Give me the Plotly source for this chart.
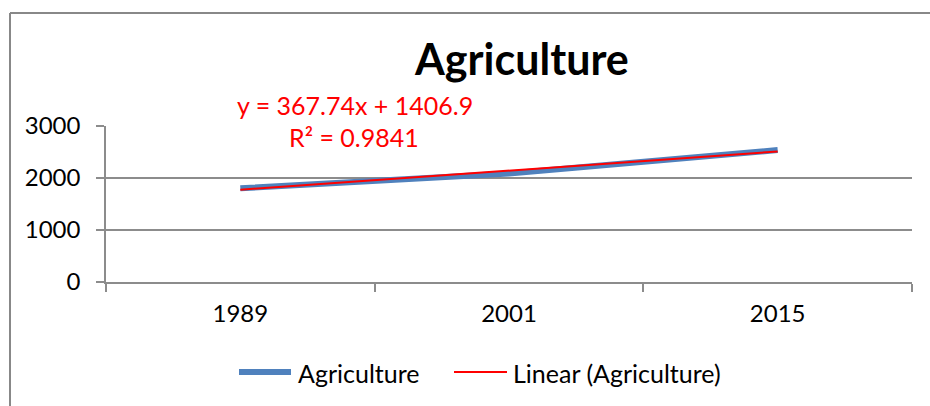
import plotly.graph_objects as go

# ---- data ----
categories = ["1989", "2001", "2015"]
agriculture = [1802, 2088, 2537]
trend_linear = [1774.6, 2142.4, 2510.1]   # Excel linear trendline y = 367.74x + 1406.9
equation_text = "y = 367.74x + 1406.9"
r2_text = "R² = 0.9841"
y_ticks = [0, 1000, 2000, 3000]
title_text = "Agriculture"
series_name = "Agriculture"
trend_name = "Linear (Agriculture)"

# ---- layout geometry (pixels) ----
W, H = 930, 406
PL, PR, PT, PB = 106, 912, 126, 282  # plot area edges


def px(x):
    return (x - PL) / (PR - PL)


def py(y):
    return (PB - y) / (PB - PT)


FONT = "Lato, 'Open Sans', sans-serif"
FS = 25
TFS = 24
GRID = "#8c8c8c"
BLUE = "#4F81BD"
RED = "#FF0000"

fig = go.Figure()
fig.add_trace(go.Scatter(x=categories, y=agriculture, mode="lines", name=series_name,
                         line=dict(color=BLUE, width=6), showlegend=False))
fig.add_trace(go.Scatter(x=categories, y=trend_linear, mode="lines", name=trend_name,
                         line=dict(color=RED, width=2), showlegend=False))

shapes = [
    # outer chart frame (left and top edges visible)
    dict(type="line", xref="paper", yref="paper", x0=px(10), x1=px(10), y0=py(13), y1=py(420),
         line=dict(color="#888888", width=2)),
    dict(type="line", xref="paper", yref="paper", x0=px(10), x1=px(940), y0=py(13), y1=py(13),
         line=dict(color="#888888", width=2)),
    # legend samples
    dict(type="line", xref="paper", yref="paper", x0=px(239), x1=px(291), y0=py(372), y1=py(372),
         line=dict(color=BLUE, width=6)),
    dict(type="line", xref="paper", yref="paper", x0=px(454), x1=px(507), y0=py(372), y1=py(372),
         line=dict(color=RED, width=2)),
]

annotations = [
    dict(text=f"<b>{title_text}</b>", xref="paper", yref="paper", x=px(521), y=py(58),
         xanchor="center", yanchor="middle", showarrow=False,
         font=dict(family=FONT, size=43, color="black")),
    dict(text=equation_text, xref="paper", yref="paper", x=px(355), y=py(105),
         xanchor="center", yanchor="middle", showarrow=False,
         font=dict(family=FONT, size=FS, color=RED)),
    dict(text=r2_text, xref="paper", yref="paper", x=px(354), y=py(137),
         xanchor="center", yanchor="middle", showarrow=False,
         font=dict(family=FONT, size=FS, color=RED)),
    dict(text=series_name, xref="paper", yref="paper", x=px(296), y=py(373),
         xanchor="left", yanchor="middle", showarrow=False,
         font=dict(family=FONT, size=FS, color="black")),
    dict(text=trend_name, xref="paper", yref="paper", x=px(511), y=py(373),
         xanchor="left", yanchor="middle", showarrow=False,
         font=dict(family=FONT, size=FS, color="black")),
]

fig.update_layout(
    width=W, height=H,
    margin=dict(l=PL, r=W - PR, t=PT, b=H - PB, pad=0),
    paper_bgcolor="white", plot_bgcolor="white",
    showlegend=False,
    font=dict(family=FONT, size=FS, color="black"),
    shapes=shapes,
    annotations=annotations,
    xaxis=dict(type="category", range=[-0.5, 2.5], tickson="boundaries",
               ticks="outside", ticklen=8, tickwidth=1.5, tickcolor=GRID,
               showgrid=False, showline=True, linecolor=GRID, linewidth=1.5,
               ticklabelstandoff=9, tickfont=dict(family=FONT, size=TFS, color="black")),
    yaxis=dict(range=[0, 3000], tickvals=y_ticks, ticktext=[str(v) for v in y_ticks],
               ticks="outside", ticklen=8, tickwidth=1.5, tickcolor=GRID,
               showgrid=True, gridcolor=GRID, gridwidth=1.5, zeroline=False,
               showline=True, linecolor=GRID, linewidth=1.5,
               ticklabelstandoff=11, tickfont=dict(family=FONT, size=TFS, color="black")),
)

fig.write_html("out.html", config={"displayModeBar": False},
               post_script="document.body.style.margin='0';document.body.style.overflow='hidden';")
